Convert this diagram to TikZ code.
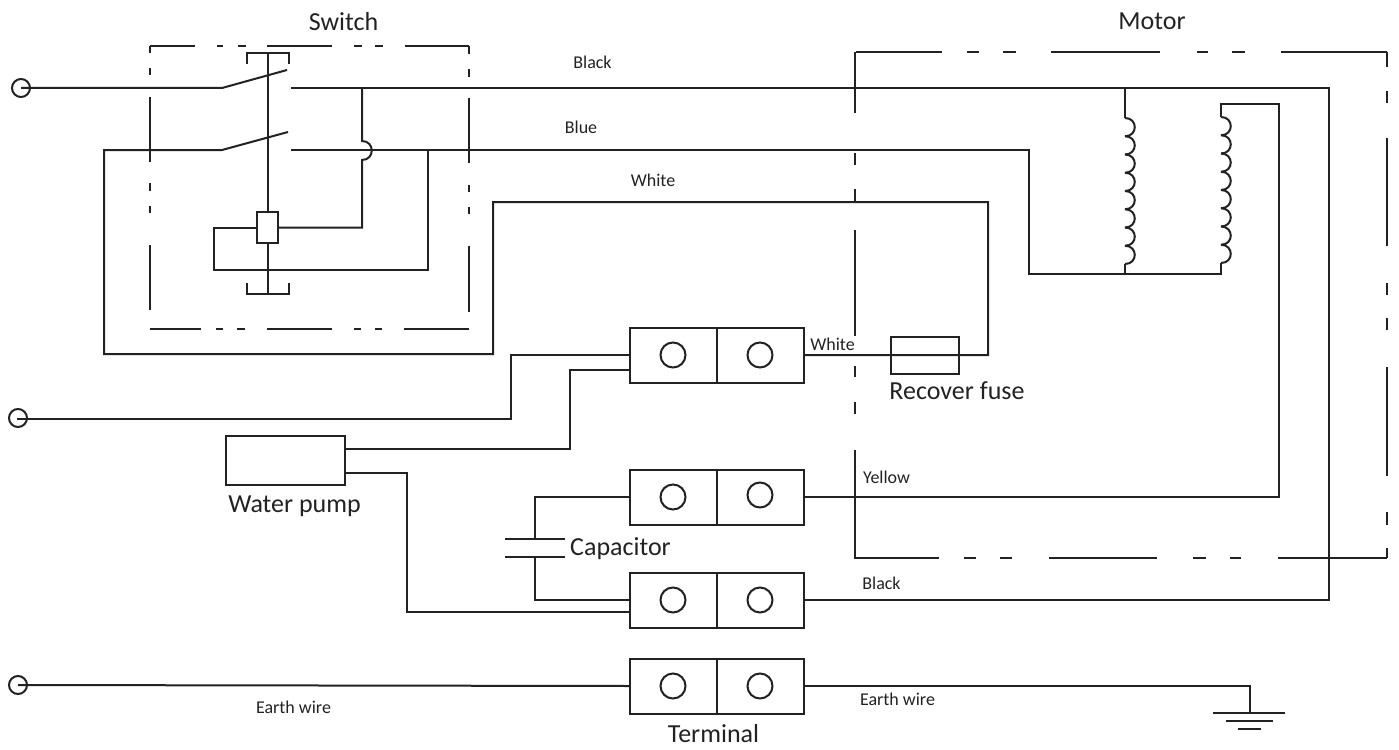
\documentclass[tikz,border=0pt]{standalone}
\usepackage{fontspec}
\setmainfont{Carlito}
\definecolor{inkline}{HTML}{222222}
\tikzset{
	wire/.style={draw=inkline, line width=2pt, line join=miter},
	bigtext/.style={text=inkline, inner sep=0pt, font=\fontsize{26}{30}\selectfont},
	smalltext/.style={text=inkline, inner sep=0pt, font=\fontsize{18}{20}\selectfont},
	termbox/.style={wire, rectangle, inner sep=0pt, minimum width=174pt, minimum height=55pt},
	screw/.style={wire, circle, inner sep=0pt, minimum size=25pt},
	port/.style={wire, circle, inner sep=0pt, minimum size=18pt},
	partbox/.style={wire, rectangle, inner sep=0pt},
	winding/.pic={
		\foreach \k in {0,...,7}
			\draw[wire] (0,{\k*18.25}) .. controls (13,{\k*18.25}) and (13,{(\k+1)*18.25}) .. (0,{(\k+1)*18.25});
	}
}
\begin{document}
\begin{tikzpicture}[x=1pt, y=-1pt]
	\useasboundingbox (0,0) rectangle (1399,749);

	% switch and motor outlines
	\foreach \a/\b in {150/195,217/223,238/246,267/332,354/362,375/383,405/469} \draw[wire] (\a,46) -- (\b,46);
	\foreach \a/\b in {150/201,216/223,237/245,267/332,354/361,375/382,404/469} \draw[wire] (\a,329) -- (\b,329);
	\foreach \a/\b in {46/53,68/75,97/162,183/191,206/213,245/310} \draw[wire] (150,\a) -- (150,\b);
	\foreach \a/\b in {46/54,69/77,98/163,185/192,207/214,246/312} \draw[wire] (469,\a) -- (469,\b);
	\foreach \a/\b in {856/942,967/979,1003/1016,1051/1160,1197/1208,1232/1245,1281/1387} \draw[wire] (\a,52) -- (\b,52);
	\foreach \a/\b in {854/939,964/976,1000/1012,1049/1157,1193/1206,1230/1241,1278/1387} \draw[wire] (\a,558) -- (\b,558);
	\foreach \a/\b in {52/113,153/165,189/202,230/336,366/377,402/414,450/558} \draw[wire] (855,\a) -- (855,\b);
	\foreach \a/\b in {52/67,91/103,138/246,283/295,318/330,367/476,512/525,548/558} \draw[wire] (1387,\a) -- (1387,\b);

	% parts
	\node[port] (inA) at (21,88) {};
	\node[port] (inB) at (18,418) {};
	\node[port] (inC) at (18,685) {};
	\foreach \nm/\yl/\yr in {A/355/355, B/497/495, C/600/600, D/686/686} {
		\node[termbox] (tb\nm) at (717,\yl) {};
		\draw[wire] (tb\nm.north) -- (tb\nm.south);
		\node[screw] (tb\nm-l) at (673,\yl) {};
		\node[screw] (tb\nm-r) at (760,\yr) {};
	}
	\node[partbox, minimum width=21pt, minimum height=31pt] (relay) at (267.5,227.5) {};
	\node[partbox, minimum width=68pt, minimum height=37pt] (fuse) at (925,355.5) {};
	\node[partbox, minimum width=119pt, minimum height=49pt] (pump) at (285.5,460.5) {};

	\coordinate (hingeA) at (222,88);
	\coordinate (tipA) at (287,70);
	\coordinate (contactA) at (291,88);
	\coordinate (hingeB) at (222,150);
	\coordinate (tipB) at (288,132);
	\coordinate (contactB) at (291,150);
	\coordinate (brkT) at (267.5,53);
	\coordinate (brkB) at (267.5,294);
	\coordinate (coilA) at (1125,118);
	\coordinate (coilB) at (1221,117);
	\coordinate (capT) at (535,539);
	\coordinate (capB) at (535,557);
	\coordinate (gnd) at (1250,713);

	% switch
	\draw[wire] (inA.center) -- (hingeA) -- (tipA);
	\draw[wire] (inB.center) -- (18,419) -- (511,419) |- (tbA.west);
	\draw[wire] (inC.center) -- (tbD.west);
	\draw[wire] (brkT) -- (relay.north);
	\draw[wire] (relay.south) -- (brkB);
	\draw[wire] (247,64) -- (247,53) -- (289,53) -- (289,64);
	\draw[wire] (247,283) -- (247,294) -- (289,294) -- (289,283);
	\draw[wire] (contactA) -- (1329,88) |- (tbC.east);
	\draw[wire] (362,88) -- (362,141) .. controls (375,141) and (375,160) .. (362,160) |- (relay.east);
	\draw[wire] (tipB) -- (hingeB) -- (104,150) -- (104,354) -- (493,354) -- (493,202) -- (988,202) |- (tbA.east);
	\draw[wire] (contactB) -- (1029,150) -- (1029,274) -- (1221,274) -- (1221,263);
	\draw[wire] (428,150) -- (428,270) -- (214,270) |- (relay.west);

	% motor windings
	\draw[wire] (1125,88) -- (coilA);
	\pic at (coilA) {winding};
	\draw[wire] (1125,264) -- (1125,274);
	\draw[wire] (coilB) -- (1221,104) -- (1279,104) |- (tbB.east);
	\pic at (coilB) {winding};

	% pump, capacitor, earth
	\draw[wire] (pump.east |- 0,449) -- (570,449) |- (630,370);
	\draw[wire] (pump.east |- 0,473) -- (407,473) |- (630,612);
	\draw[wire] (tbB.west) -- (535,497) -- (capT);
	\draw[wire] (capB) -- (535,600) -- (tbC.west);
	\draw[wire] (505,539) -- (565,539);
	\draw[wire] (505,557) -- (565,557);
	\draw[wire] (tbD.east) -- (1250,686) -- (gnd);
	\draw[wire] (1213,713) -- (1285,713);
	\draw[wire] (1226,721) -- (1273,721);
	\draw[wire] (1238,729) -- (1261,729);

	% labels
	\node[bigtext] (lblSwitch) at (343.5,22) {Switch};
	\node[bigtext] (lblMotor) at (1152,21) {Motor};
	\node[bigtext] (lblFuse) at (957,391) {Recover fuse};
	\node[bigtext] (lblPump) at (294.5,506) {Water pump};
	\node[bigtext] (lblCap) at (620.5,549) {Capacitor};
	\node[bigtext] (lblTerm) at (713.5,734) {Terminal};
	\node[smalltext] (lblBlackA) at (592.5,62) {Black};
	\node[smalltext] (lblBlue) at (581,127) {Blue};
	\node[smalltext] (lblWhiteA) at (653,180) {White};
	\node[smalltext] (lblWhiteB) at (832.5,344) {White};
	\node[smalltext] (lblYellow) at (886.5,477) {Yellow};
	\node[smalltext] (lblBlackB) at (881.5,583) {Black};
	\node[smalltext] (lblEarthA) at (293.5,707) {Earth wire};
	\node[smalltext] (lblEarthB) at (897.5,699) {Earth wire};
\end{tikzpicture}
\end{document}
